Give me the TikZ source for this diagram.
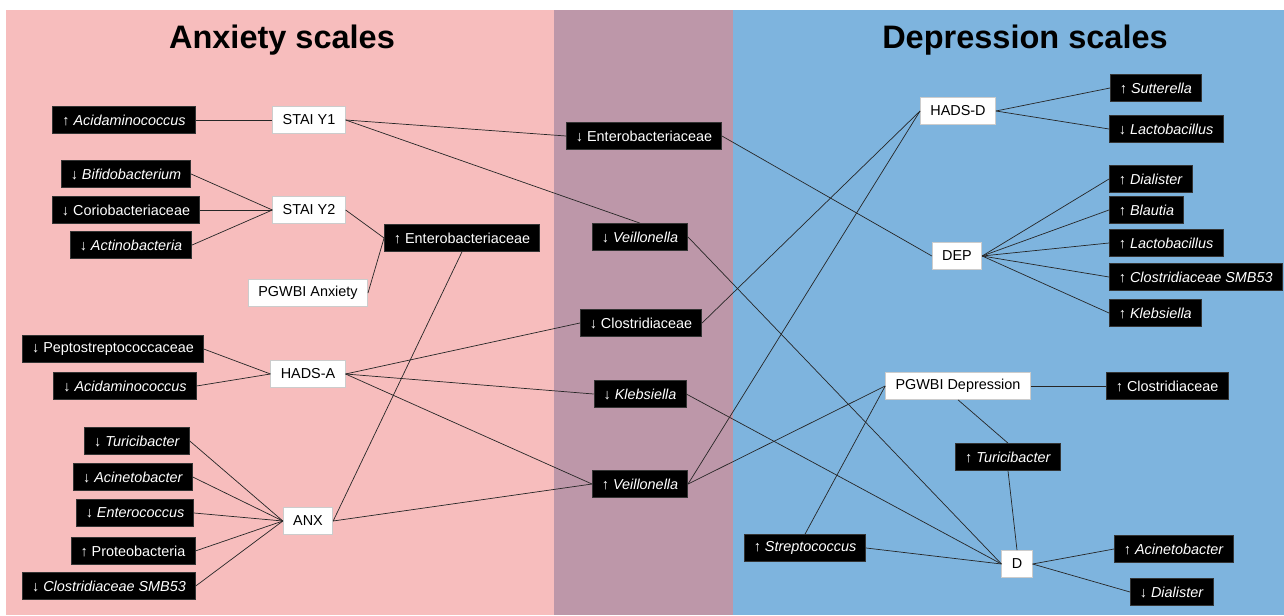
\documentclass[tikz,border=0pt]{standalone}
\usepackage{fontspec}
\setmainfont{Liberation Sans}
\usetikzlibrary{positioning}
\usepackage{xcolor}

\definecolor{anxpink}{RGB}{247,189,189}
\definecolor{mixpurple}{RGB}{189,151,169}
\definecolor{depblue}{RGB}{126,180,222}

\newcommand{\incr}{↑}
\newcommand{\decr}{↓}

\tikzset{
 taxon/.style={fill=black, text=white, draw=black!80, minimum height=0.54cm, inner xsep=0.19cm, inner ysep=0pt, font=\fontsize{8.2}{9}\selectfont},
 measure/.style={fill=white, text=black, draw=black!20, minimum height=0.54cm, inner xsep=0.2cm, inner ysep=0pt, font=\fontsize{8.2}{9}\selectfont},
 heading/.style={font=\fontsize{18.5}{20}\selectfont\bfseries},
 link/.style={draw=black!85, line width=0.4pt}
}

\begin{document}
\begin{tikzpicture}[x=0.02cm, y=-0.02cm]
\useasboundingbox (0,0) rectangle (1284,615);
\fill[white] (0,0) rectangle (1284,615);
\fill[anxpink] (6,10) rectangle (554,615);
\fill[mixpurple] (554,10) rectangle (733,615);
\fill[depblue] (733,10) rectangle (1284,615);
\node[heading] (anxTitle) at (282,40) {Anxiety scales};
\node[heading] (depTitle) at (1025,40) {Depression scales};

% anxiety side, taxa
\node[taxon] (aAcidUp) at (124,120) {\incr{} \textit{Acidaminococcus}};
\node[taxon] (aBifido) at (126,174) {\decr{} \textit{Bifidobacterium}};
\node[taxon] (aCorio) at (126,210) {\decr{} Coriobacteriaceae};
\node[taxon] (aActino) at (131,245) {\decr{} \textit{Actinobacteria}};
\node[taxon] (aPepto) at (113,349) {\decr{} Peptostreptococcaceae};
\node[taxon] (aAcidDown) at (125,386) {\decr{} \textit{Acidaminococcus}};
\node[taxon] (aTuric) at (137,441) {\decr{} \textit{Turicibacter}};
\node[taxon] (aAcinet) at (133,477) {\decr{} \textit{Acinetobacter}};
\node[taxon] (aEntero) at (135,513) {\decr{} \textit{Enterococcus}};
\node[taxon] (aProteo) at (133,551) {\incr{} Proteobacteria};
\node[taxon] (aSMB) at (109,586) {\decr{} \textit{Clostridiaceae SMB53}};
\node[taxon] (aEnterob) at (462,238) {\incr{} Enterobacteriaceae};

% anxiety scales
\node[measure] (staiA) at (309,120) {STAI Y1};
\node[measure] (staiB) at (309,210) {STAI Y2};
\node[measure] (pgwbiA) at (308,293) {PGWBI Anxiety};
\node[measure] (hadsA) at (308,374) {HADS-A};
\node[measure] (anx) at (308,521) {ANX};

% shared taxa
\node[taxon] (mEnterob) at (644,136) {\decr{} Enterobacteriaceae};
\node[taxon] (mVeilDown) at (640,237) {\decr{} \textit{Veillonella}};
\node[taxon] (mClost) at (641,323) {\decr{} Clostridiaceae};
\node[taxon] (mKleb) at (640,394) {\decr{} \textit{Klebsiella}};
\node[taxon] (mVeilUp) at (640,484) {\incr{} \textit{Veillonella}};

% depression scales
\node[measure] (hadsD) at (958,111) {HADS-D};
\node[measure] (dep) at (957,256) {DEP};
\node[measure] (pgwbiD) at (958,386) {PGWBI Depression};
\node[measure] (dd) at (1017,564) {D};

% depression side, taxa
\node[taxon] (dTuric) at (1008,457) {\incr{} \textit{Turicibacter}};
\node[taxon] (dStrep) at (805,548) {\incr{} \textit{Streptococcus}};
\node[taxon,anchor=west] (dSutt) at (1110,88) {\incr{} \textit{Sutterella}};
\node[taxon,anchor=west] (dLactoDown) at (1109,129) {\decr{} \textit{Lactobacillus}};
\node[taxon,anchor=west] (dDialUp) at (1109,179) {\incr{} \textit{Dialister}};
\node[taxon,anchor=west] (dBlaut) at (1109,210) {\incr{} \textit{Blautia}};
\node[taxon,anchor=west] (dLactoUp) at (1109,243) {\incr{} \textit{Lactobacillus}};
\node[taxon,anchor=west] (dSMB) at (1109,277) {\incr{} \textit{Clostridiaceae SMB53}};
\node[taxon,anchor=west] (dKleb) at (1109,313) {\incr{} \textit{Klebsiella}};
\node[taxon,anchor=west] (dClost) at (1106,386) {\incr{} Clostridiaceae};
\node[taxon,anchor=west] (dAcinet) at (1114,549) {\incr{} \textit{Acinetobacter}};
\node[taxon,anchor=west] (dDialDown) at (1130,592) {\decr{} \textit{Dialister}};

% links, anxiety side
\draw[link] (aAcidUp.east)--(staiA.west);
\foreach \t in {aBifido,aCorio,aActino}
 \draw[link] (\t.east)--(staiB.west);
\foreach \t in {aPepto,aAcidDown}
 \draw[link] (\t.east)--(hadsA.west);
\foreach \t in {aTuric,aAcinet,aEntero,aProteo,aSMB}
 \draw[link] (\t.east)--(anx.west);
\draw[link] (staiA.east)--(mEnterob.west);
\draw[link] (staiA.east)--(mVeilDown.north);
\draw[link] (staiB.east)--(aEnterob.west);
\draw[link] (pgwbiA.east)--(aEnterob.west);
\draw[link] (aEnterob.south)--(anx.east);
\foreach \t in {mClost,mKleb,mVeilUp}
 \draw[link] (hadsA.east)--(\t.west);
\draw[link] (anx.east)--(mVeilUp.west);

% links, depression side
\draw[link] (mEnterob.east)--(dep.west);
\draw[link] (mVeilDown.east)--(dd.west);
\draw[link] (mKleb.east)--(dd.west);
\draw[link] (mClost.east)--(hadsD.west);
\draw[link] (mVeilUp.east)--(hadsD.west);
\draw[link] (mVeilUp.east)--(pgwbiD.west);
\draw[link] (dStrep.north)--(pgwbiD.west);
\draw[link] (dStrep.east)--(dd.west);
\draw[link] (pgwbiD.south)--(dTuric.north);
\draw[link] (dTuric.south)--(dd.north);
\draw[link] (pgwbiD.east)--(dClost.west);
\foreach \t in {dSutt,dLactoDown}
 \draw[link] (hadsD.east)--(\t.west);
\foreach \t in {dDialUp,dBlaut,dLactoUp,dSMB,dKleb}
 \draw[link] (dep.east)--(\t.west);
\foreach \t in {dAcinet,dDialDown}
 \draw[link] (dd.east)--(\t.west);
\end{tikzpicture}
\end{document}
